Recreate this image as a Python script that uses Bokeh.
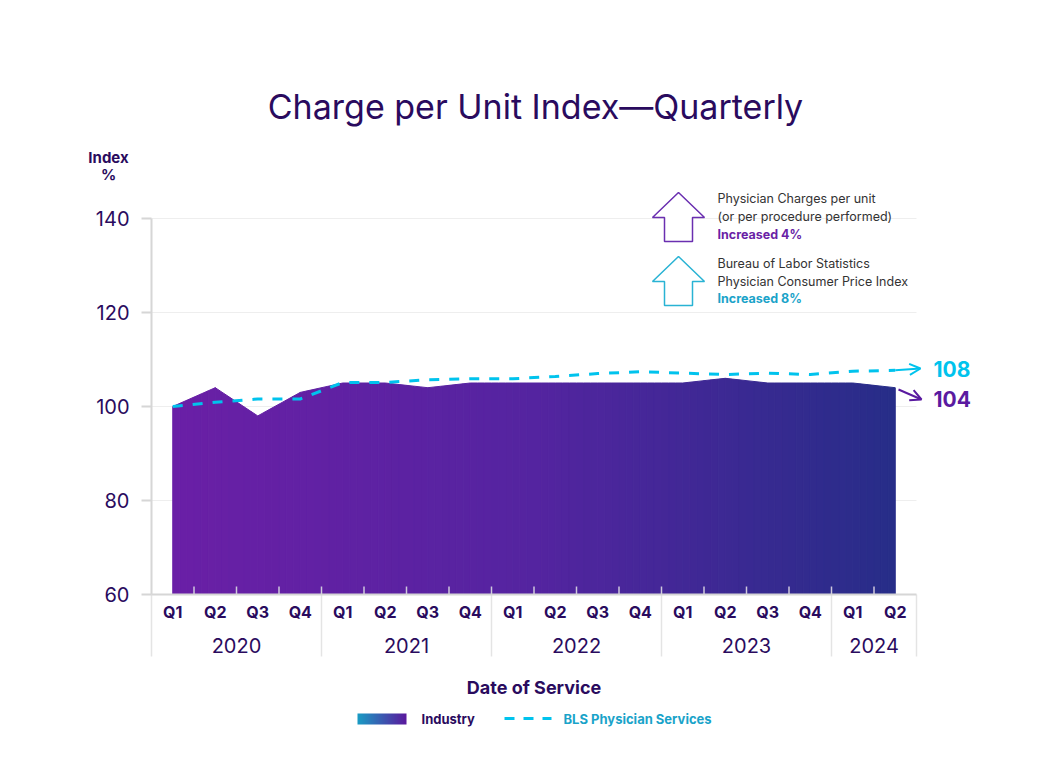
import numpy as np
from bokeh.plotting import figure
from bokeh.models import Range1d, FixedTicker, LinearAxis, Label, Arrow, OpenHead
from bokeh.embed import file_html
from bokeh.resources import INLINE

# ---------------- data ----------------
quarters = ["Q1", "Q2", "Q3", "Q4", "Q1", "Q2", "Q3", "Q4", "Q1", "Q2", "Q3", "Q4",
            "Q1", "Q2", "Q3", "Q4", "Q1", "Q2"]
years = ["2020", "2021", "2022", "2023", "2024"]
group_sizes = [4, 4, 4, 4, 2]
industry = [100, 104, 98, 103, 105, 105, 104, 105, 105, 105, 105, 105,
            105, 106, 105, 105, 105, 104]
bls = [100, 100.9, 101.6, 101.6, 105.1, 105.1, 105.7, 105.9, 105.9, 106.4, 107.0, 107.4,
       107.1, 106.8, 107.1, 106.8, 107.5, 107.7]
y_ticks = [60, 80, 100, 120, 140]

FONT = "Inter"
DARK = "#2a0b5e"
PURPLE = "#6a1fa6"
PURPLE_LBL = "#5a1aa0"
CYAN = "#00c3ed"
CYAN_TXT = "#1aa3c9"
AXIS_GREY = "#d6d6d6"

n = len(quarters)
xs_idx = list(range(n))
centers, seps, start = [], [-0.5], 0
for g in group_sizes:
    centers.append(start + (g - 1) / 2)
    start += g
    seps.append(start - 0.5)

# ---------------- geometry ----------------
OFF = 0          # canvas offset inside the page
W, H = 1050, 770

def dx(px):      # page pixel -> data x
    return (px - 151) / 42.5 - 0.5

def dy(py):      # page pixel -> data y
    return 140 - (py - 218) / 4.7

p = figure(frame_width=W, frame_height=H, min_border=0,
           x_range=Range1d(dx(OFF), dx(OFF + W)), y_range=Range1d(dy(OFF + H), dy(OFF)),
           x_axis_location=None, y_axis_location=None,
           output_backend="svg", toolbar_location=None)
p.outline_line_color = None
for g in p.grid:
    g.visible = False

# ---------------- axes ----------------
yax = LinearAxis(fixed_location=-0.5, bounds=(60, 140), ticker=FixedTicker(ticks=y_ticks))
yax.axis_line_color = AXIS_GREY
yax.axis_line_width = 2
yax.major_tick_line_color = AXIS_GREY
yax.major_tick_line_width = 2
yax.major_tick_out = 10
yax.major_tick_in = 0
yax.minor_tick_line_color = None
yax.major_label_text_font = FONT
yax.major_label_text_font_size = "20px"
yax.major_label_text_color = DARK
yax.major_label_standoff = 12
p.add_layout(yax, "left")

qax = LinearAxis(fixed_location=60, bounds=(-0.5, n - 0.5),
                 ticker=FixedTicker(ticks=xs_idx, minor_ticks=[]))
qax.major_label_overrides = {i: quarters[i] for i in xs_idx}
qax.axis_line_color = AXIS_GREY
qax.axis_line_width = 2
qax.major_tick_out = 0
qax.major_tick_in = 0
qax.major_tick_line_color = None
qax.minor_tick_line_color = None
qax.major_label_text_font = FONT
qax.major_label_text_font_style = "bold"
qax.major_label_text_font_size = "16px"
qax.major_label_text_color = DARK
qax.major_label_standoff = 7
p.add_layout(qax, "below")

yr = LinearAxis(fixed_location=dy(629), bounds=(-0.5, n - 0.5),
                ticker=FixedTicker(ticks=centers, minor_ticks=[]))
yr.major_label_overrides = {c: y for c, y in zip(centers, years)}
yr.axis_line_color = None
yr.major_tick_line_color = None
yr.minor_tick_line_color = None
yr.major_tick_out = 0
yr.major_tick_in = 0
yr.major_label_text_font = FONT
yr.major_label_text_font_size = "20px"
yr.major_label_text_color = DARK
yr.major_label_standoff = 8
yr.axis_label = "Date of Service"
yr.axis_label_text_font = FONT
yr.axis_label_text_font_style = "bold"
yr.axis_label_text_font_size = "18px"
yr.axis_label_text_color = DARK
yr.axis_label_standoff = 21
p.add_layout(yr, "below")

# horizontal grid lines (span the category range only)
gy = y_ticks[1:]
p.segment(x0=[-0.5] * len(gy), y0=gy, x1=[n - 0.5] * len(gy), y1=gy,
          line_color="#eeeeee", line_width=1, level="underlay")

# year separators below the axis
p.segment(x0=seps, y0=[60] * len(seps), x1=seps, y1=[dy(656)] * len(seps),
          line_color="#e4e4e4", line_width=1.5)

# ---------------- gradient area ----------------
stops = [(0.0, (0x6a, 0x1f, 0xa6)), (0.5, (0x54, 0x24, 0xa0)), (1.0, (0x27, 0x2d, 0x88))]

def grad(t):
    for (t0, c0), (t1, c1) in zip(stops[:-1], stops[1:]):
        if t <= t1:
            f = (t - t0) / (t1 - t0)
            c = [int(round(a + (b - a) * f)) for a, b in zip(c0, c1)]
            return "#%02x%02x%02x" % tuple(c)
    return "#%02x%02x%02x" % stops[-1][1]

sub = 6
pxs, pys, pcs = [], [], []
for i in range(n - 1):
    for k in range(sub):
        f0, f1 = k / sub, (k + 1) / sub
        x0, x1 = i + f0, i + f1
        y0 = industry[i] + (industry[i + 1] - industry[i]) * f0
        y1 = industry[i] + (industry[i + 1] - industry[i]) * f1
        pxs.append([x0, x1, x1, x0])
        pys.append([60, 60, y1, y0])
        pcs.append(grad(((x0 + x1) / 2) / (n - 1)))
p.patches(pxs, pys, fill_color=pcs, line_color=pcs, line_width=1)

# inward boundary ticks on the x axis
bx = [i + 0.5 for i in range(n - 1)]
p.segment(x0=bx, y0=[60] * len(bx), x1=bx, y1=[61.7] * len(bx),
          line_color="#cfc8dc", line_width=1.5)

# BLS dashed line
p.line(xs_idx, bls, line_color=CYAN, line_width=3, line_dash="10 10")

# end arrows + value labels
p.add_layout(Arrow(end=OpenHead(size=11, line_color=CYAN, line_width=2),
                   x_start=n - 1, y_start=bls[-1], x_end=dx(920), y_end=dy(368),
                   line_color=CYAN, line_width=2))
p.add_layout(Arrow(end=OpenHead(size=11, line_color=PURPLE_LBL, line_width=2),
                   x_start=dx(898), y_start=dy(389), x_end=dx(921), y_end=dy(399),
                   line_color=PURPLE_LBL, line_width=2))
p.add_layout(Label(x=dx(933), y=dy(368), text="%d" % round(bls[-1]), text_font=FONT,
                   text_font_style="bold", text_font_size="21px", text_color=CYAN,
                   text_baseline="middle", text_align="left"))
p.add_layout(Label(x=dx(933), y=dy(398), text="%d" % round(industry[-1]), text_font=FONT,
                   text_font_style="bold", text_font_size="21px", text_color=PURPLE_LBL,
                   text_baseline="middle", text_align="left"))

# ---------------- title / y label ----------------
p.add_layout(Label(x=dx(535), y=dy(106), text="Charge per Unit Index\u2014Quarterly",
                   text_font=FONT, text_font_size="34px", text_color=DARK,
                   text_align="center", text_baseline="middle"))
p.add_layout(Label(x=dx(108), y=dy(157), text="Index", text_font=FONT, text_font_style="bold",
                   text_font_size="15px", text_color=DARK, text_align="center",
                   text_baseline="middle"))
p.add_layout(Label(x=dx(108), y=dy(174), text="%", text_font=FONT, text_font_style="bold",
                   text_font_size="15px", text_color=DARK, text_align="center",
                   text_baseline="middle"))

# ---------------- callouts ----------------
def arrow_icon(cx, top, color):
    pts = [(cx, top), (cx + 26, top + 25), (cx + 14, top + 25), (cx + 14, top + 49),
           (cx - 14, top + 49), (cx - 14, top + 25), (cx - 26, top + 25)]
    p.patch([dx(a) for a, b in pts], [dy(b) for a, b in pts], fill_color="white",
            line_color=color, line_width=1.5)

arrow_icon(678, 192, "#6a2fb0")
arrow_icon(678, 256, "#29b3d4")

callouts = [
    (198, "Physician Charges per unit", "normal", "#333333"),
    (216, "(or per procedure performed)", "normal", "#333333"),
    (234, "Increased 4%", "bold", PURPLE),
    (263, "Bureau of Labor Statistics", "normal", "#333333"),
    (281, "Physician Consumer Price Index", "normal", "#333333"),
    (298, "Increased 8%", "bold", CYAN_TXT),
]
for py, txt, style, col in callouts:
    p.add_layout(Label(x=dx(717), y=dy(py), text=txt, text_font=FONT, text_font_style=style,
                       text_font_size="12.5px", text_color=col, text_baseline="middle",
                       text_align="left"))

# ---------------- legend ----------------
w = 49
img = np.zeros((1, w), dtype=np.uint32)
view = img.view(dtype=np.uint8).reshape((1, w, 4))
c0 = np.array([0x1a, 0x9b, 0xc4])
c1 = np.array([0x5a, 0x1a, 0x9e])
for j in range(w):
    f = j / (w - 1)
    view[0, j, :3] = (c0 + (c1 - c0) * f).astype(np.uint8)
    view[0, j, 3] = 255
p.image_rgba(image=[img], x=dx(357), y=dy(724), dw=dx(406) - dx(357), dh=dy(713) - dy(724))
p.add_layout(Label(x=dx(421), y=dy(718), text="Industry", text_font=FONT,
                   text_font_style="bold", text_font_size="13px", text_color=DARK,
                   text_baseline="middle"))
p.line([dx(504), dx(551)], [dy(718), dy(718)], line_color=CYAN, line_width=3, line_dash="10 9")
p.add_layout(Label(x=dx(563), y=dy(718), text="BLS Physician Services", text_font=FONT,
                   text_font_style="bold", text_font_size="13px", text_color=CYAN_TXT,
                   text_baseline="middle"))

open("out.html", "w").write(file_html(p, INLINE))
